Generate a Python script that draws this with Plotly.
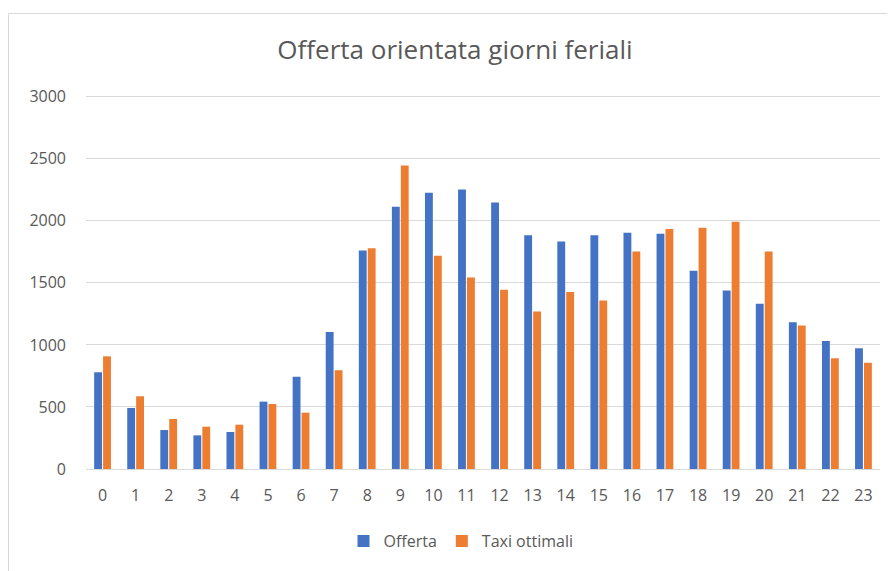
import plotly.graph_objects as go

hours = [str(h) for h in range(24)]
offerta = [779, 492, 314, 271, 298, 543, 744, 1105, 1760, 2113, 2226, 2252,
           2148, 1884, 1833, 1884, 1903, 1895, 1597, 1438, 1331, 1183, 1032, 973]
taxi_ottimali = [908, 586, 403, 341, 357, 524, 454, 795, 1779, 2446, 1718, 1543,
                 1444, 1269, 1427, 1357, 1752, 1935, 1944, 1992, 1752, 1156, 892, 857]
y_ticks = [0, 500, 1000, 1500, 2000, 2500, 3000]

# page body has an 8px margin, so the figure is drawn 8px in from the top-left
W, H = 887, 563
L, R, T, B = 78, 15, 85, 102
YMAX = 3030

fig = go.Figure()
fig.add_trace(go.Bar(x=hours, y=offerta, name="Offerta", marker_color="#4472C4",
                     marker_line_width=0))
fig.add_trace(go.Bar(x=hours, y=taxi_ottimali, name="Taxi ottimali", marker_color="#ED7D31",
                     marker_line_width=0))

pw = W - L - R
ph = H - T - B
bottom = H - B
fig.add_shape(type="rect", xref="paper", yref="paper",
              x0=(0.5 - L) / pw, x1=(W + 20 - L) / pw,
              y0=(bottom - H - 20) / ph, y1=(bottom - 5.5) / ph,
              line=dict(color="#D9D9D9", width=1), fillcolor="rgba(0,0,0,0)", layer="below")

fig.update_layout(
    width=W, height=H,
    margin=dict(l=L, r=R, t=T, b=B, autoexpand=False),
    paper_bgcolor="white", plot_bgcolor="white",
    barmode="group", bargap=0.46, bargroupgap=0.12,
    font=dict(family="Open Sans, Liberation Sans, sans-serif", color="#595959", size=16),
    title=dict(text="Offerta orientata giorni feriali", x=447 / W, xref="container",
               xanchor="center", y=1 - 42 / H, yanchor="middle",
               font=dict(size=26, color="#595959", family="Open Sans, sans-serif")),
    legend=dict(orientation="h", x=(453 - L) / pw, xanchor="center",
                y=(bottom - 533) / ph, yanchor="middle",
                font=dict(size=16, color="#595959"), itemwidth=30, traceorder="normal"),
    showlegend=True,
)
fig.update_xaxes(type="category", showgrid=False, showline=True, linecolor="#D9D9D9",
                 linewidth=1, ticks="", ticklabelstandoff=12,
                 tickfont=dict(size=16, color="#595959"))
fig.update_yaxes(range=[0, YMAX], tickvals=y_ticks, showgrid=True, gridcolor="#D9D9D9",
                 gridwidth=1, zeroline=False, showline=False, ticks="",
                 ticklabelstandoff=19, tickfont=dict(size=16, color="#595959"))

fig.write_html("out.html")
